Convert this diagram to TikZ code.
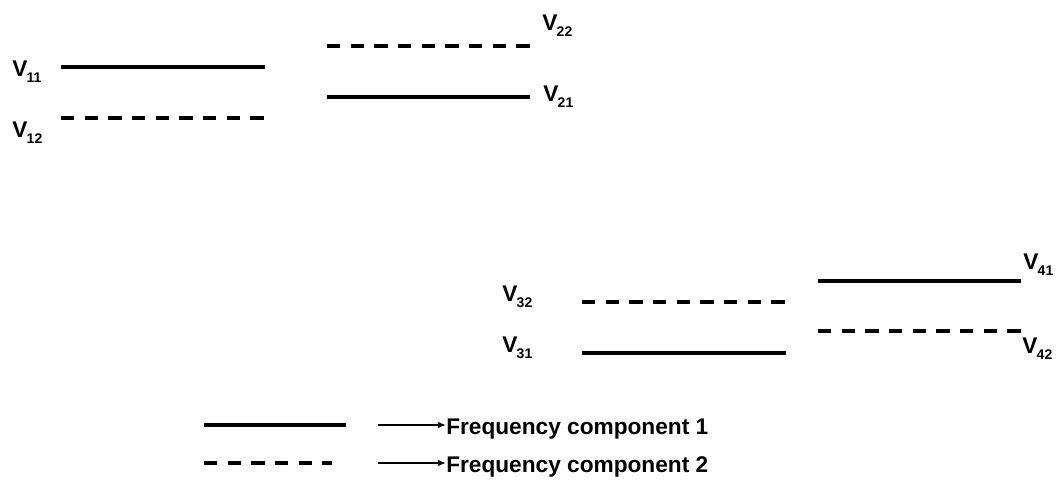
\documentclass[tikz,border=0pt]{standalone}
\usepackage{fontspec}
\setmainfont{Liberation Sans}
\usetikzlibrary{arrows.meta,positioning}
\newcommand{\lev}[1]{V\kern-0.5pt\raisebox{-5pt}{\fontsize{10.5}{12}\selectfont\bfseries #1}}

\begin{document}
\begin{tikzpicture}[x=0.75pt,y=-0.75pt,
    solidlvl/.style={line width=2.6pt},
    dashlvl/.style={line width=2.6pt,dash pattern=on 10pt off 7.75pt},
    lbl/.style={font=\fontsize{17}{20}\selectfont\bfseries,inner sep=0pt,anchor=base west},
    legarrow/.style={line width=1.6pt,-{Latex[length=6pt,width=5pt]}}]
    \useasboundingbox (0,0) rectangle (1062,493);
    % level 1
    \coordinate (a11) at (61,67);   \coordinate (b11) at (265,67);
    \coordinate (a12) at (61,118);  \coordinate (b12) at (265,118);
    \draw[solidlvl] (a11) -- (b11);
    \draw[dashlvl] (a12) -- (b12);
    \node[lbl] (v11) at (12,76) {\lev{11}};
    \node[lbl] (v12) at (12,137) {\lev{12}};
    % level 2
    \coordinate (a22) at (327,46);  \coordinate (b22) at (530,46);
    \coordinate (a21) at (327,97);  \coordinate (b21) at (530,97);
    \draw[dashlvl] (a22) -- (b22);
    \draw[solidlvl] (a21) -- (b21);
    \node[lbl] (v22) at (542,30) {\lev{22}};
    \node[lbl] (v21) at (543,101) {\lev{21}};
    % level 3
    \coordinate (a32) at (582,302); \coordinate (b32) at (786,302);
    \coordinate (a31) at (582,353); \coordinate (b31) at (786,353);
    \draw[dashlvl] (a32) -- (b32);
    \draw[solidlvl] (a31) -- (b31);
    \node[lbl] (v32) at (502,301) {\lev{32}};
    \node[lbl] (v31) at (502,352) {\lev{31}};
    % level 4
    \coordinate (a41) at (818,281); \coordinate (b41) at (1021,281);
    \coordinate (a42) at (818,331); \coordinate (b42) at (1021,331);
    \draw[solidlvl] (a41) -- (b41);
    \draw[dashlvl] (a42) -- (b42);
    \node[lbl] (v41) at (1023,269) {\lev{41}};
    \node[lbl] (v42) at (1022,353) {\lev{42}};
    % legend
    \coordinate (k1a) at (204,425); \coordinate (k1b) at (346,425);
    \coordinate (k2a) at (204,463); \coordinate (k2b) at (332,463);
    \draw[solidlvl] (k1a) -- (k1b);
    \draw[dashlvl] (k2a) -- (k2b);
    \node[lbl] (f1) at (446,434) {Frequency component 1};
    \node[lbl] (f2) at (446,472) {Frequency component 2};
    \coordinate (t1) at (378,425);
    \coordinate (t2) at (378,463);
    \draw[legarrow] (t1) -- (t1 -| f1.west);
    \draw[legarrow] (t2) -- (t2 -| f2.west);
\end{tikzpicture}
\end{document}
